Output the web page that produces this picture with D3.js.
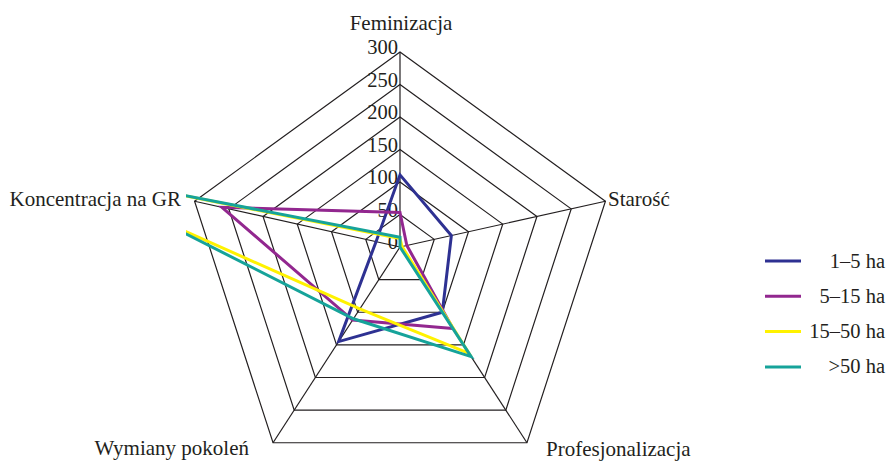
<!DOCTYPE html>
<html>
<head>
<meta charset="utf-8">
<script src="https://cdn.jsdelivr.net/npm/d3@7"></script>
<style>
  body { margin: 0; background: #fff; }
</style>
</head>
<body>
<svg id="chart"></svg>
<script>
// axis (category) names, clockwise from the top
var axisNames = ["Feminizacja", "Starość", "Profesjonalizacja", "Wymiany pokoleń", "Koncentracja na GR"];
var seriesNames = ["1–5 ha", "5–15 ha", "15–50 ha", ">50 ha"];
var seriesColors = ["#2e3192", "#92278f", "#fff200", "#16a39a"];

// values per axis, same order as axisNames
var farms1to5 = [111, 75, 100, 145, 35];
var farms5to15 = [53, 10, 125, 112, 260];
var farms15to50 = [13, 3, 163, 95, 525];
var farmsOver50 = [15, 0, 168, 110, 490];

var tickValues = [0, 50, 100, 150, 200, 250, 300];

var seriesValues = [farms1to5, farms5to15, farms15to50, farmsOver50];

var width = 889, height = 462;
var cx = 400, cy = 247,      // where the spokes meet
    R = 216, drop = 21;      // outer ring is drawn a bit lower than the hub
var serif = "'Liberation Serif', 'DejaVu Serif', 'Times New Roman', Times, serif";

var svg = d3.select("#chart")
    .attr("width", width)
    .attr("height", height)
    .style("font-family", serif);

var rScale = d3.scaleLinear().domain([0, 300]).range([0, 1]);

// outer vertex of each spoke
var outer = axisNames.map(function(d, i) {
  var a = (-90 + 72 * i) * Math.PI / 180;
  return [cx + R * Math.cos(a), cy + drop + R * Math.sin(a)];
});

function pt(i, v) {
  var t = rScale(v);
  return [cx + t * (outer[i][0] - cx), cy + t * (outer[i][1] - cy)];
}

var line = d3.line().curve(d3.curveLinearClosed);

// grid rings
svg.append("g").selectAll("path.ring")
    .data(tickValues.slice(1))
  .enter().append("path")
    .attr("class", "ring")
    .attr("d", function(v) { return line(axisNames.map(function(d, i) { return pt(i, v); })); })
    .attr("fill", "none")
    .attr("stroke", "#231f20")
    .attr("stroke-width", 1.2);

// spokes
svg.append("g").selectAll("line.spoke")
    .data(axisNames)
  .enter().append("line")
    .attr("x1", cx).attr("y1", cy)
    .attr("x2", function(d, i) { return outer[i][0]; })
    .attr("y2", function(d, i) { return outer[i][1]; })
    .attr("stroke", "#231f20")
    .attr("stroke-width", 1.2);

// tick labels along the top spoke
svg.append("g").selectAll("text.tick")
    .data(tickValues)
  .enter().append("text")
    .attr("x", cx - 2)
    .attr("y", function(v) { return pt(0, v)[1] + 2; })
    .attr("text-anchor", "end")
    .attr("fill", "#231f20")
    .style("font-size", "20.5px")
    .text(function(v) { return v; });

// data lines, clipped to the plot area
svg.append("clipPath").attr("id", "plotClip")
  .append("rect")
    .attr("x", 186).attr("y", 35)
    .attr("width", 440).attr("height", 415);

svg.append("g").attr("clip-path", "url(#plotClip)")
  .selectAll("path.series")
    .data(seriesValues)
  .enter().append("path")
    .attr("class", "series")
    .attr("d", function(vals) { return line(vals.map(function(v, i) { return pt(i, v); })); })
    .attr("fill", "none")
    .attr("stroke", function(d, k) { return seriesColors[k]; })
    .attr("stroke-width", 3)
    .attr("stroke-linejoin", "miter");

// axis names
var labelPos = [
  {x: 401, y: 30, anchor: "middle"},
  {x: 608, y: 206, anchor: "start"},
  {x: 546, y: 456, anchor: "start"},
  {x: 249, y: 455, anchor: "end"},
  {x: 181, y: 206, anchor: "end"}
];
svg.append("g").selectAll("text.axis")
    .data(axisNames)
  .enter().append("text")
    .attr("x", function(d, i) { return labelPos[i].x; })
    .attr("y", function(d, i) { return labelPos[i].y; })
    .attr("text-anchor", function(d, i) { return labelPos[i].anchor; })
    .attr("fill", "#231f20")
    .style("font-size", "21px")
    .text(function(d) { return d; });

// legend
var legend = svg.append("g").selectAll("g.legend")
    .data(seriesNames)
  .enter().append("g")
    .attr("transform", function(d, k) { return "translate(0," + (261 + 35.3 * k) + ")"; });

legend.append("line")
    .attr("x1", 765).attr("x2", 801)
    .attr("stroke", function(d, k) { return seriesColors[k]; })
    .attr("stroke-width", 3);

legend.append("text")
    .attr("x", 885)
    .attr("y", 6.5)
    .attr("text-anchor", "end")
    .attr("fill", "#231f20")
    .style("font-size", "20.5px")
    .text(function(d) { return d; });
</script>
</body>
</html>
